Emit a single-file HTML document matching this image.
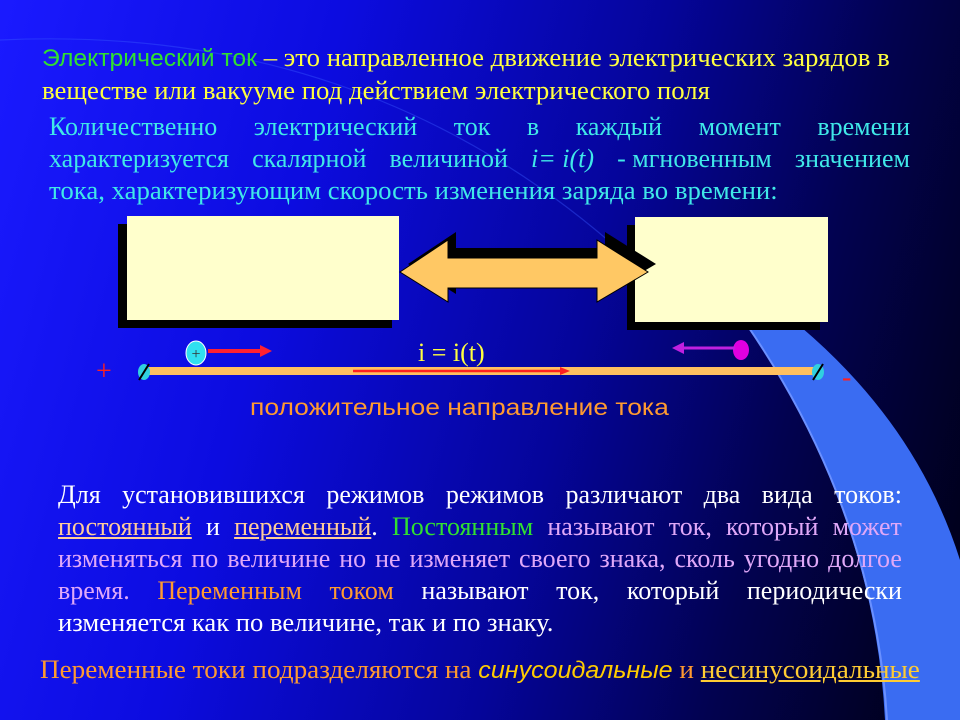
<!DOCTYPE html>
<html><head><meta charset="utf-8"><style>
html,body{margin:0;padding:0}
body{width:960px;height:720px;overflow:hidden;position:relative;
background:linear-gradient(105deg,#1a1aff 0%,#0c0ce0 30%,#05059a 58%,#020250 78%,#000010 100%);
font-family:"Liberation Serif",serif}
.t{position:absolute;white-space:nowrap}
.row{display:flex;justify-content:space-between;height:32px;align-items:center}
</style></head><body>
<svg width="960" height="720" style="position:absolute;left:0;top:0">
<path d="M0 40 Q420 20 700 330" stroke="#3a5aff" stroke-width="1.2" fill="none" opacity="0.4"/>
<path d="M690 250 Q900 370 960 560 L960 720 L885 720 Q872 470 690 250 Z" fill="#3a6cf2"/>
<path d="M692 252 Q872 470 887 720" stroke="#6a90ff" stroke-width="2" fill="none"/>
<rect x="118" y="224" width="274" height="104" fill="#000"/>
<rect x="127" y="216" width="272" height="104" fill="#ffffcc"/>
<rect x="627" y="225" width="193" height="105" fill="#000"/>
<rect x="635" y="217" width="193" height="105" fill="#ffffcc"/>
<polygon points="408,264 456,232 456,248 605,248 605,232 656,264 605,294 605,280 456,280 456,294" fill="#000"/>
<polygon points="400,272 448,240 448,258 597,258 597,240 648,272 597,302 597,288 448,288 448,302" fill="#ffc864" stroke="#000" stroke-width="1"/>
<rect x="143" y="367" width="675" height="8" fill="#ffc060"/>
<line x1="353" y1="371" x2="562" y2="371" stroke="#ff2020" stroke-width="2.5"/>
<polygon points="560,367 570,371 560,375" fill="#ff2020"/>
<ellipse cx="144" cy="372" rx="6" ry="8" fill="#30d0e0"/>
<line x1="139" y1="380" x2="149" y2="364" stroke="#000" stroke-width="2"/>
<ellipse cx="818" cy="372" rx="6" ry="8" fill="#30d0e0"/>
<line x1="813" y1="380" x2="823" y2="364" stroke="#000" stroke-width="2"/>
<ellipse cx="196" cy="353" rx="10" ry="12" fill="#30e0f0" stroke="#fff" stroke-width="1"/>
<text x="196" y="359" font-size="16" text-anchor="middle" fill="#333" font-family="Liberation Serif">+</text>
<line x1="208" y1="351" x2="262" y2="351" stroke="#ff2030" stroke-width="4"/>
<polygon points="260,345 272,351 260,357" fill="#ff2030"/>
<ellipse cx="741" cy="350" rx="8" ry="10" fill="#e000e0"/>
<line x1="682" y1="348" x2="735" y2="348" stroke="#c020e0" stroke-width="3"/>
<polygon points="684,342 672,348 684,354" fill="#c020e0"/>
</svg>
<div class="t" style="left:42px;top:42px;font-size:26px;color:#ffff40;line-height:32px;transform:scaleX(1.03);transform-origin:left"><span style="color:#30e030;font-family:'Liberation Sans',sans-serif;font-size:24px">Электрический ток</span> – это направленное движение электрических зарядов в<br>веществе или вакууме под действием электрического поля</div>
<div style="position:absolute;left:49px;top:111px;width:861px;font-size:26px;color:#40e8e8;line-height:32px">
<div class="row"><span>Количественно</span><span>электрический</span><span>ток</span><span>в</span><span>каждый</span><span>момент</span><span>времени</span></div>
<div class="row"><span>характеризуется</span><span>скалярной</span><span>величиной</span><span><i>i= i(t)</i></span><span>- мгновенным</span><span>значением</span></div>
<div style="transform:scaleX(1.03);transform-origin:left;white-space:nowrap">тока, характеризующим скорость изменения заряда во времени:</div>
</div>
<div class="t" style="left:418px;top:338px;font-size:26px;color:#ffff40">i = i(t)</div>
<div class="t" style="left:96px;top:356px;font-size:28px;color:#ff2020">+</div>
<div class="t" style="left:842px;top:362px;font-size:28px;color:#ff2020">-</div>
<div class="t" style="left:250px;top:394px;font-size:23px;color:#ff9a30;font-family:'Liberation Sans',sans-serif;transform:scaleX(1.15);transform-origin:left">положительное направление тока</div>
<div style="position:absolute;left:58px;top:479px;width:844px;font-size:26px;line-height:32px;color:#e0a8f8">
<div class="row" style="color:#fff"><span>Для</span><span>установившихся</span><span>режимов</span><span>режимов</span><span>различают</span><span>два</span><span>вида</span><span>токов:</span></div>
<div class="row"><span style="color:#ffcc99;text-decoration:underline">постоянный</span><span style="color:#fff">и</span><span><span style="color:#ffcc99;text-decoration:underline">переменный</span><span style="color:#fff">.</span></span><span style="color:#30e030">Постоянным</span><span>называют</span><span>ток,</span><span>который</span><span>может</span></div>
<div class="row"><span>изменяться</span><span>по</span><span>величине</span><span>но</span><span>не</span><span>изменяет</span><span>своего</span><span>знака,</span><span>сколь</span><span>угодно</span><span>долгое</span></div>
<div class="row" style="color:#fff"><span style="color:#e0a8f8">время.</span><span style="color:#ff9a30">Переменным</span><span style="color:#ff9a30">током</span><span>называют</span><span>ток,</span><span>который</span><span>периодически</span></div>
<div style="color:#fff;white-space:nowrap;transform:scaleX(1.023);transform-origin:left">изменяется как по величине, так и по знаку.</div>
</div>
<div class="t" style="left:40px;top:655px;font-size:26px;color:#ff9a30;transform:scaleX(1.045);transform-origin:left">Переменные токи подразделяются на <i style="font-family:'Liberation Sans',sans-serif;color:#ffcc00;font-size:24px">синусоидальные</i> и <span style="color:#ffcc33;text-decoration:underline">несинусоидальные</span></div>
</body></html>
